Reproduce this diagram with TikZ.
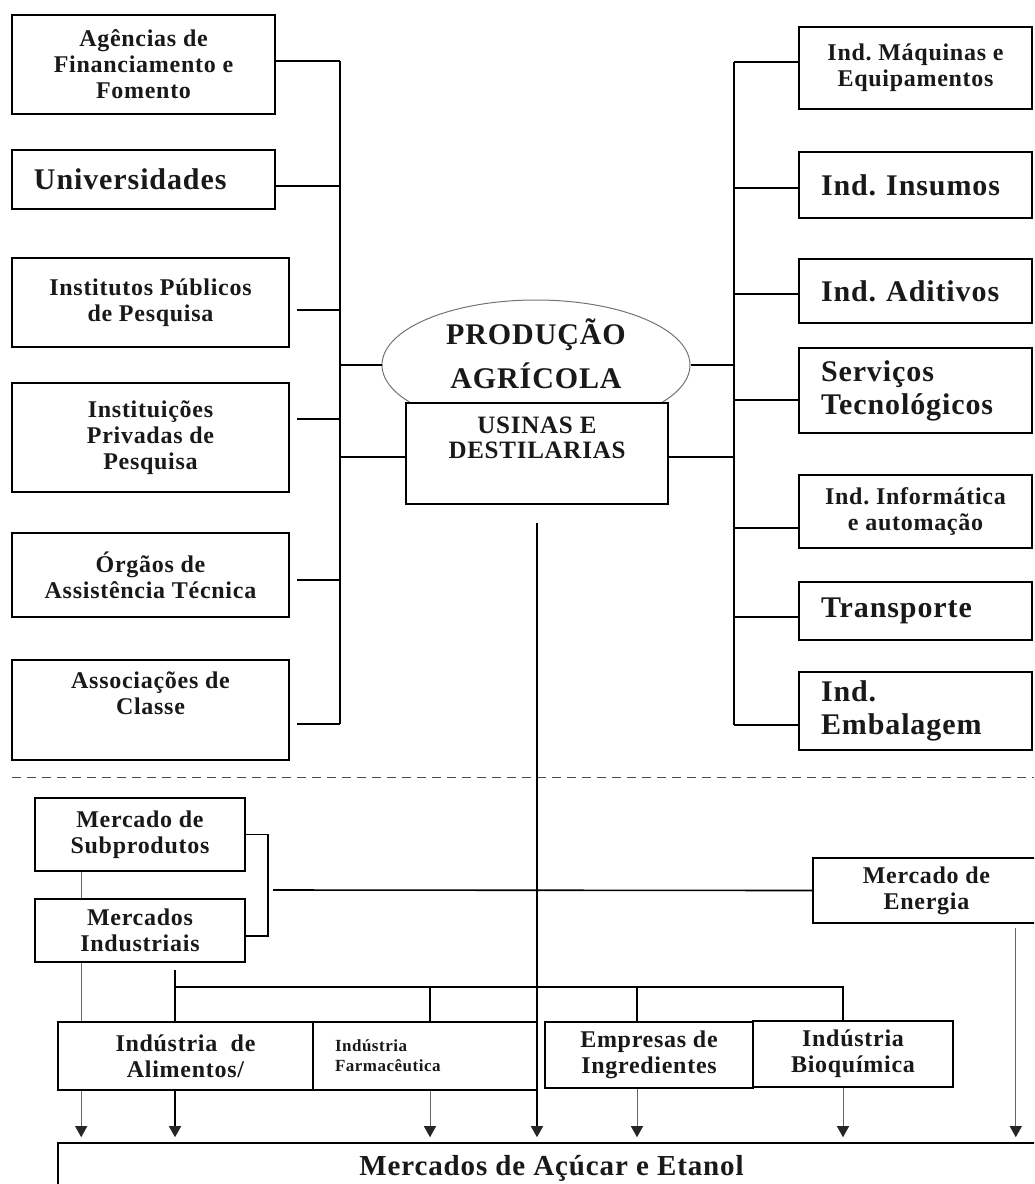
\documentclass[tikz,border=0pt]{standalone}
\usepackage{fontspec}
\setmainfont{Liberation Serif}[LetterSpace=3]
\usepackage{tikz}
\usetikzlibrary{shapes.geometric, arrows.meta, positioning}

\newcommand{\txtsmall}{\fontsize{24}{26}\selectfont\bfseries}
\newcommand{\txtbig}{\fontsize{30}{33}\selectfont\bfseries}
\newcommand{\txttiny}{\fontsize{17}{20}\selectfont\bfseries}
\frenchspacing

\begin{document}
\begin{tikzpicture}[x=1pt, y=-1pt,
    box/.style={rectangle, draw, line width=1.6pt, fill=white, inner sep=0pt, align=center, font=\txtsmall, text=black!90},
    leftbox/.style={box, align=left, inner xsep=22pt, font=\txtbig},
    link/.style={line width=1.6pt},
    thin link/.style={line width=0.9pt, black!60},
    arrow/.style={-{Triangle[width=12pt, length=11pt, color=black!85]}, shorten >=5pt},
    dashed line/.style={line width=1pt, black!70, dash pattern=on 9pt off 6pt}
]

\useasboundingbox (0,0) rectangle (1034,1184);
\clip (0,0) rectangle (1034,1184);

\node[box, minimum width=263pt, minimum height=99pt] (ag) at (143.5,64.5) {Agências de\\Financiamento e\\Fomento};
\node[leftbox, text width=219pt, minimum height=59pt] (uni) at (143.5,179.5) {Universidades};
\node[box, minimum width=277pt, minimum height=89pt] (inst) at (150.5,302.5) {Institutos Públicos\\de Pesquisa};
\node[box, minimum width=277pt, minimum height=109pt] (priv) at (150.5,437.5) {Instituições\\Privadas de\\Pesquisa};
\node[box, minimum width=277pt, minimum height=84pt] (org) at (150.5,575) {Órgãos de\\Assistência Técnica};
\node[box, minimum width=277pt, minimum height=100pt] (assoc) at (150.5,710) {Associações de\\Classe\\\strut};

\node[ellipse, draw=black!55, line width=1pt, inner sep=0pt, minimum width=308pt, minimum height=130pt, font=\txtbig, align=center, text=black!90] (prod) at (536,365) {PRODUÇÃO\\[11pt]AGRÍCOLA\\[-21pt]\strut};
\node[box, minimum width=262pt, minimum height=101pt, font=\fontsize{25}{25}\selectfont\bfseries] (us) at (537,453.5) {USINAS E\\DESTILARIAS\\\strut};

\node[box, minimum width=233pt, minimum height=82pt] (maq) at (915.5,68) {Ind. Máquinas e\\Equipamentos};
\node[leftbox, text width=189pt, minimum height=66pt] (ins) at (915.5,185) {Ind. Insumos};
\node[leftbox, text width=189pt, minimum height=64pt] (adi) at (915.5,291) {Ind. Aditivos};
\node[leftbox, text width=189pt, minimum height=85pt] (serv) at (915.5,390.5) {Serviços\\Tecnológicos};
\node[box, minimum width=233pt, minimum height=73pt] (inf) at (915.5,511.5) {Ind. Informática\\e automação};
\node[leftbox, text width=189pt, minimum height=58pt] (trans) at (915.5,611) {Transporte};
\node[leftbox, text width=189pt, minimum height=78pt] (emb) at (915.5,711) {Ind.\\Embalagem};

\coordinate (lbus) at (340,0);
\coordinate (rbus) at (734,0);

\foreach \n/\dy/\gap in {ag/3.5/0, uni/-6.5/0, inst/-7.5/7, priv/18.5/7, org/-5/7, assoc/-14/7}
  \draw[link] ([shift={(\gap pt,\dy pt)}]\n.east) -- ([yshift=\dy pt]\n.east -| lbus);
\draw[link] ([yshift=3.5pt]ag.east -| lbus) -- ([yshift=-14pt]assoc.east -| lbus);

\foreach \n/\dy in {maq/6, ins/-3, adi/-3, serv/-9.5, inf/-16.5, trans/-6, emb/-14}
  \draw[link] ([yshift=\dy pt]\n.west) -- ([yshift=\dy pt]\n.west -| rbus);
\draw[link] ([yshift=6pt]maq.west -| rbus) -- ([yshift=-14pt]emb.west -| rbus);

\draw[link] (prod.west) -- (prod.west -| lbus);
\draw[link] (prod.east) -- (prod.east -| rbus);
\draw[link] ([yshift=-3.5pt]us.west) -- ([yshift=-3.5pt]us.west -| lbus);
\draw[link] ([yshift=-3.5pt]us.east) -- ([yshift=-3.5pt]us.east -| rbus);

\coordinate (dl) at (12,777);
\coordinate (dr) at (1034,777);
\draw[dashed line] (dl) -- (dr);

\node[box, minimum width=210pt, minimum height=73pt] (sub) at (140,834.5) {Mercado de\\Subprodutos};
\node[box, minimum width=210pt, minimum height=63pt] (indu) at (140,930.5) {Mercados\\Industriais};
\node[box, minimum width=227pt, minimum height=65pt] (ener) at (926.5,890.5) {Mercado de\\Energia};

\node[box, minimum width=255pt, minimum height=68pt] (ali) at (185.5,1056) {Indústria~~de\\Alimentos/};
\node[box, align=left, font=\txttiny, inner xsep=22pt, text width=180pt, minimum height=68pt] (farm) at (425,1056) {Indústria\\Farmacêutica};
\node[box, minimum width=208pt, minimum height=66pt] (emp) at (649,1055) {Empresas de\\Ingredientes};
\node[box, minimum width=200pt, minimum height=66pt] (bio) at (853,1054) {Indústria\\Bioquímica};
\node[box, minimum width=987pt, minimum height=50pt, font=\fontsize{29}{33}\selectfont\bfseries] (merc) at (551.5,1168) {Mercados de Açúcar e Etanol};

\draw[thin link] ([xshift=47pt]sub.south west) -- ([xshift=47pt]indu.north west);
\draw[link] (sub.east) -- ++(22,0) |- ([yshift=-5.5pt]indu.east);
\coordinate (brk) at (273,890);
\draw[link] (brk) -- (ener.west);

\coordinate (dtop) at (175,970);
\coordinate (dbus) at (175,987);
\draw[link] (dtop) -- (ali.north -| dtop);
\draw[link] (dbus) -| ([xshift=-10pt]bio.north);
\draw[link] ([xshift=5pt]farm.north) -- ([xshift=5pt]farm.north |- dbus);
\draw[link] ([xshift=-12pt]emp.north) -- ([xshift=-12pt]emp.north |- dbus);

\draw[thin link] ([xshift=47pt]indu.south west) -- ([xshift=47pt]indu.south west |- ali.north);
\draw[thin link, arrow] ([xshift=47pt]indu.south west |- ali.south) -- ([xshift=47pt]indu.south west |- merc.north);
\draw[link, arrow] (ali.south -| dtop) -- (merc.north -| dtop);
\draw[thin link, arrow] ([xshift=5pt]farm.south) -- ([xshift=5pt]farm.south |- merc.north);
\draw[thin link, arrow] ([xshift=-12pt]emp.south) -- ([xshift=-12pt]emp.south |- merc.north);
\draw[thin link, arrow] ([xshift=-10pt]bio.south) -- ([xshift=-10pt]bio.south |- merc.north);
\draw[thin link, arrow] ([shift={(-25pt,-4pt)}]ener.south east) -- ([xshift=-25pt]ener.south east |- merc.north);
\draw[link, arrow] ([yshift=-18pt]us.south) -- (us.south |- merc.north);

\end{tikzpicture}
\end{document}
